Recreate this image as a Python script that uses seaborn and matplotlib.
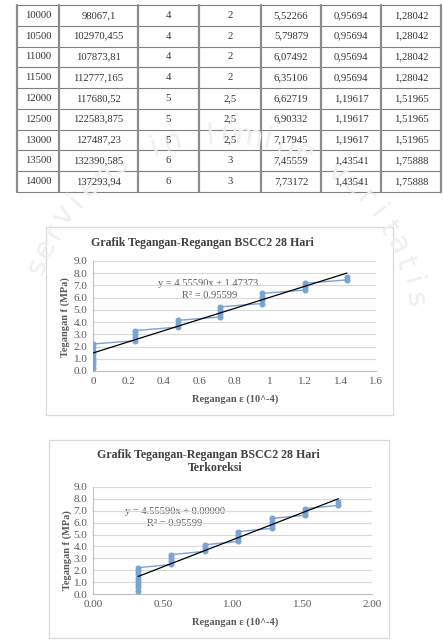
import numpy as np
import matplotlib.pyplot as plt
from matplotlib.patches import Rectangle
import seaborn as sns

# --- tabel (bagian bawah tabel data) ---
beban = ['10000', '10500', '11000', '11500', '12000', '12500', '13000', '13500', '14000']
gaya = ['98067,1', '102970,455', '107873,81', '112777,165', '117680,52',
        '122583,875', '127487,23', '132390,585', '137293,94']
dial = ['4', '4', '4', '4', '5', '5', '5', '6', '6']
delta = ['2', '2', '2', '2', '2,5', '2,5', '2,5', '3', '3']
teg_tabel = ['5,52266', '5,79879', '6,07492', '6,35106', '6,62719',
             '6,90332', '7,17945', '7,45559', '7,73172']
reg_tabel = ['0,95694', '0,95694', '0,95694', '0,95694', '1,19617',
             '1,19617', '1,19617', '1,43541', '1,43541']
kor_tabel = ['1,28042', '1,28042', '1,28042', '1,28042', '1,51965',
             '1,51965', '1,51965', '1,75888', '1,75888']

# --- data grafik ---
regangan = [0, 0, 0, 0, 0, 0, 0, 0,
            0.23923, 0.23923, 0.23923, 0.23923,
            0.47847, 0.47847, 0.47847,
            0.71770, 0.71770, 0.71770, 0.71770,
            0.95694, 0.95694, 0.95694, 0.95694,
            1.19617, 1.19617, 1.19617,
            1.43541, 1.43541]
regangan_kor = [0.32348, 0.32348, 0.32348, 0.32348, 0.32348, 0.32348, 0.32348, 0.32348,
                0.56271, 0.56271, 0.56271, 0.56271,
                0.80195, 0.80195, 0.80195,
                1.04118, 1.04118, 1.04118, 1.04118,
                1.28042, 1.28042, 1.28042, 1.28042,
                1.51965, 1.51965, 1.51965,
                1.75888, 1.75888]
tegangan = [0.27613, 0.55227, 0.82840, 1.10453, 1.38066, 1.65680, 1.93293, 2.20906,
            2.48520, 2.76133, 3.03746, 3.31359,
            3.58973, 3.86586, 4.14199,
            4.41812, 4.69426, 4.97039, 5.24652,
            5.52266, 5.79879, 6.07492, 6.35106,
            6.62719, 6.90332, 7.17945,
            7.45559, 7.73172]

sns.set_style('white')
plt.rcParams['font.family'] = ['Liberation Serif', 'DejaVu Serif']

W, H = 443, 643
BLUE = '#7BA2D4'
GRID = '#D9D9D9'
TXT = '#595959'

fig = plt.figure(figsize=(W / 100, H / 100), dpi=100)

# background axes in pixel coordinates (table, watermark, chart frames)
bg = fig.add_axes([0, 0, 1, 1])
bg.set_xlim(0, W)
bg.set_ylim(H, 0)
bg.axis('off')
bg.set_zorder(0)

# watermark: faint motto along an arc
motto = 'serviens in lumine veritatis'
cx, cy, r = 222, 330, 195
angles = np.linspace(161, 9, len(motto))
for ch, a in zip(motto, angles):
    t = np.deg2rad(a)
    bg.text(cx + r * np.cos(t), cy - r * np.sin(t), ch, fontsize=21,
            rotation=a - 90, ha='center', va='center', color='#EFEFEF',
            family='DejaVu Sans')

# table
cols = [17, 59, 138, 199, 261, 321, 381, 441]
top, bot = 5, 192
rh = (bot - top) / len(beban)
for i in range(len(beban) + 1):
    bg.plot([cols[0], cols[-1]], [top + i * rh] * 2, color='#7F7F7F', lw=0.8)
for c in cols:
    bg.plot([c, c], [top, bot], color='#8C8C8C', lw=1.6)
kolom = [beban, gaya, dial, delta, teg_tabel, reg_tabel, kor_tabel]
for j, isi in enumerate(kolom):
    xc = (cols[j] + cols[j + 1]) / 2
    for i, s in enumerate(isi):
        bg.text(xc, top + (i + 0.5) * rh, s, ha='center', va='center',
                fontsize=7.7, color='#333333')

# chart frames
bg.add_patch(Rectangle((46, 227), 347, 188, fill=False, ec=GRID, lw=0.9))
bg.add_patch(Rectangle((49, 440), 340, 198, fill=False, ec=GRID, lw=0.9))


def px_axes(x0, y0, x1, y1):
    return fig.add_axes([x0 / W, 1 - y1 / H, (x1 - x0) / W, (y1 - y0) / H])


def style(ax, xlim, xticks, xlabels):
    ax.set_facecolor('none')
    ax.set_xlim(*xlim)
    ax.set_ylim(0, 9)
    ax.set_xticks(xticks)
    ax.set_xticklabels(xlabels)
    ax.set_yticks(np.arange(0, 10, 1))
    ax.set_yticklabels([f'{v:.1f}' for v in np.arange(0, 10, 1)])
    ax.tick_params(length=0, labelsize=8, labelcolor=TXT, pad=4)
    ax.grid(axis='y', color=GRID, lw=0.8)
    ax.grid(axis='x', visible=False)
    for s in ['top', 'right']:
        ax.spines[s].set_visible(False)
    for s in ['left', 'bottom']:
        ax.spines[s].set_color('#BFBFBF')
        ax.spines[s].set_linewidth(0.8)
    ax.set_xlabel('')
    ax.set_ylabel('')


def draw(ax, x, y):
    sns.lineplot(x=x, y=y, sort=False, estimator=None, marker='o', color=BLUE,
                 lw=1.0, markersize=3.6, markeredgecolor=BLUE, ax=ax, zorder=3)
    m, b = np.polyfit(x, y, 1)
    xf = np.array([min(x), max(x)])
    sns.lineplot(x=xf, y=m * xf + b, color='black', lw=0.9, ax=ax, zorder=4)


# chart 1
ax1 = px_axes(93, 261, 376, 371)
draw(ax1, regangan, tegangan)
style(ax1, (0, 1.6), np.arange(0, 1.61, 0.2),
      ['0', '0.2', '0.4', '0.6', '0.8', '1', '1.2', '1.4', '1.6'])
bg.text(202, 243, 'Grafik Tegangan-Regangan BSCC2 28 Hari', ha='center', va='center',
        fontsize=8.6, weight='bold', color='#404040')
bg.text(208, 284, 'y = 4.55590x + 1.47373', ha='center', va='center', fontsize=7.5, color=TXT)
bg.text(210, 296, 'R² = 0.95599', ha='center', va='center', fontsize=7.5, color=TXT)
bg.text(235, 399, 'Regangan ε (10^-4)', ha='center', va='center', fontsize=7.5,
        weight='bold', color=TXT)
bg.text(65, 317, 'Tegangan f (MPa)', ha='center', va='center', fontsize=7.5,
        weight='bold', color=TXT, rotation=90)

# chart 2
ax2 = px_axes(93, 487, 372, 594)
draw(ax2, regangan_kor, tegangan)
style(ax2, (0, 2), np.arange(0, 2.01, 0.5), ['0.00', '0.50', '1.00', '1.50', '2.00'])
bg.text(208, 455, 'Grafik Tegangan-Regangan BSCC2 28 Hari', ha='center',
        va='center', fontsize=8.6, weight='bold', color='#404040')
bg.text(215, 468, 'Terkoreksi', ha='center',
        va='center', fontsize=8.6, weight='bold', color='#404040')
bg.text(175, 511, 'y = 4.55590x + 0.00000', ha='center', va='center', fontsize=7.5, color=TXT)
bg.text(175, 523, 'R² = 0.95599', ha='center', va='center', fontsize=7.5, color=TXT)
bg.text(235, 622, 'Regangan ε (10^-4)', ha='center', va='center', fontsize=7.5,
        weight='bold', color=TXT)
bg.text(67, 550, 'Tegangan f (MPa)', ha='center', va='center', fontsize=7.5,
        weight='bold', color=TXT, rotation=90)

fig.savefig('out.png', dpi=100)
